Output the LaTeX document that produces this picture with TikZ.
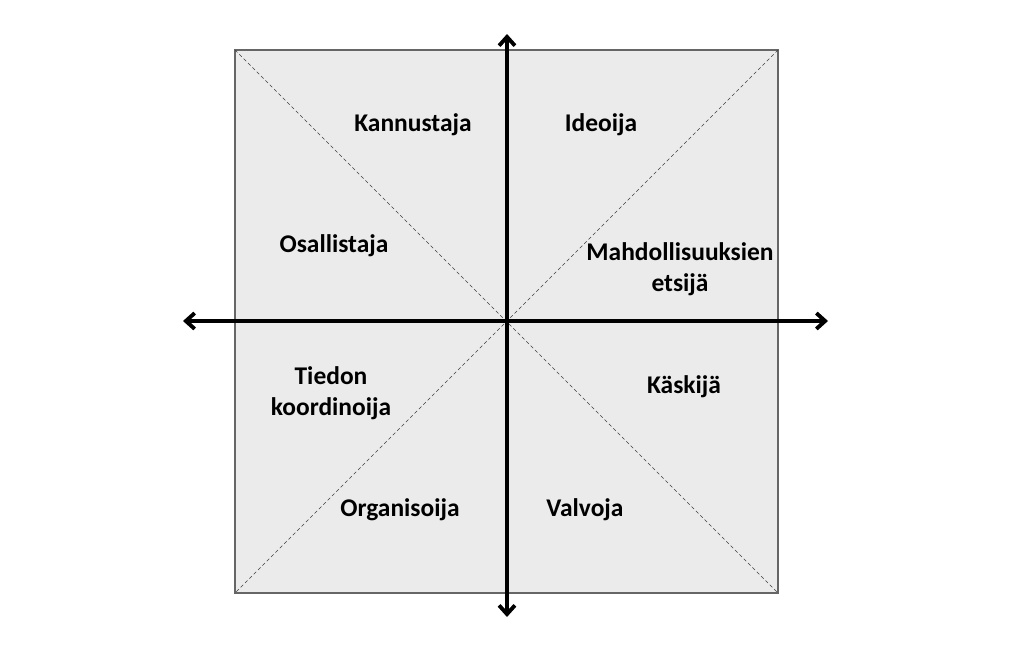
\documentclass[tikz,border=0pt]{standalone}
\usepackage{fontspec}
\setmainfont{Carlito}
\usepackage{tikz}
\usetikzlibrary{calc, positioning, arrows.meta}
\tikzstyle{role}=[inner sep=1pt, font=\fontsize{14.5}{17.5}\selectfont\bfseries, align=center, text=black]
\tikzstyle{axis}=[line width=1.8pt]
\tikzstyle{diag}=[dashed, line width=0.35pt, dash pattern=on 2pt off 1.5pt, black!75]
\tikzset{>={Straight Barb[length=5pt, width=9pt, line width=2.2pt]}}
\begin{document}
\begin{tikzpicture}[x=0.02cm, y=-0.02cm]
\useasboundingbox (0,0) rectangle (1024,670);
\coordinate (nw) at (235,50);
\coordinate (ne) at (778,50);
\coordinate (sw) at (235,593);
\coordinate (se) at (778,593);
\coordinate (c) at (507,321);
\coordinate (top) at (507,34);
\coordinate (bot) at (507,617);
\coordinate (lft) at (183,321);
\coordinate (rgt) at (828,321);

\draw[fill=black!8, draw=black!60, line width=0.6pt] (nw) rectangle (se);
\draw[diag] (nw) -- (se);
\draw[diag] (ne) -- (sw);

\draw[axis, <->] (bot) -- (top);
\draw[axis, <->] (lft) -- (rgt);

\node[role] (kann) at (413,125) {Kannustaja};
\node[role] (idea) at (601,125) {Ideoija};
\node[role] (osal) at (334,246) {Osallistaja};
\node[role] (mahd) at (680,269) {Mahdollisuuksien\\etsijä};
\node[role] (tied) at (331,393) {Tiedon\\koordinoija};
\node[role] (kask) at (684,387) {Käskijä};
\node[role] (orga) at (400,510) {Organisoija};
\node[role] (valv) at (585,510) {Valvoja};
\end{tikzpicture}
\end{document}
